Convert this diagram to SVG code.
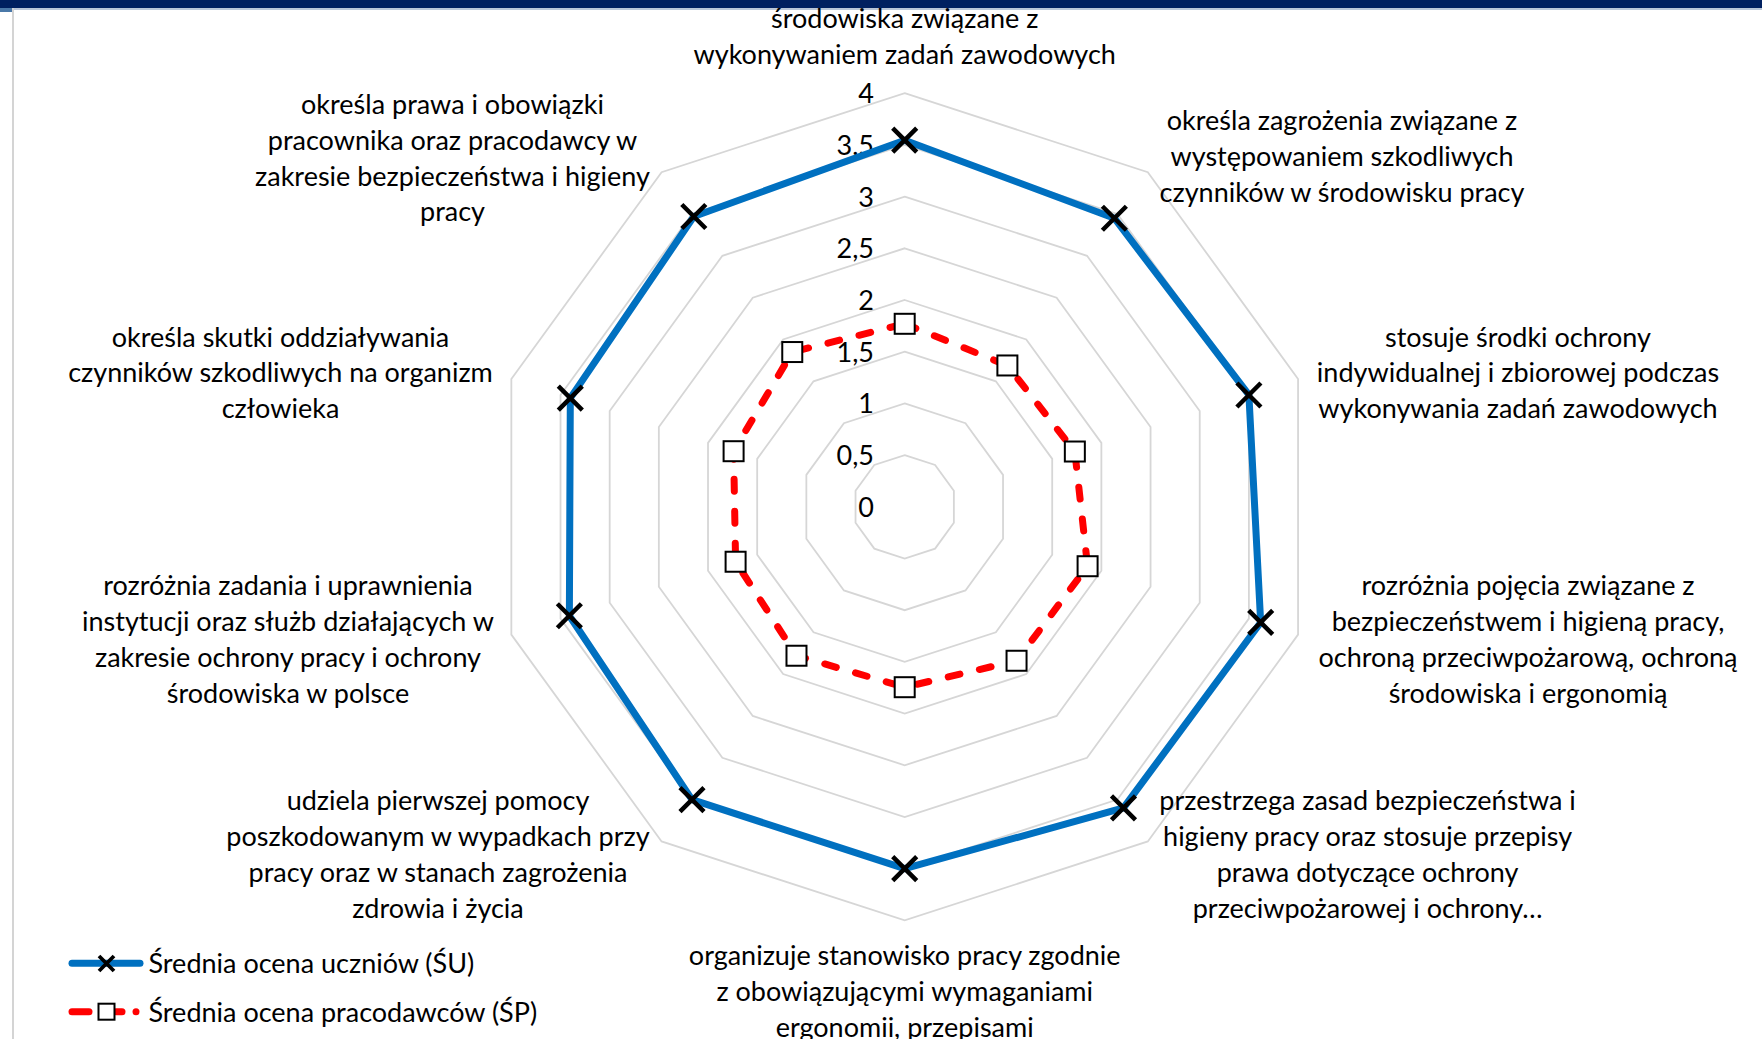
<svg xmlns="http://www.w3.org/2000/svg" xmlns:xlink="http://www.w3.org/1999/xlink" width="1762" height="1039" viewBox="0 0 1762 1039">
<style>
.grid{fill:none;stroke:#d6d6d6;stroke-width:1.8}
.txt{font-family:Lato,"Open Sans","Liberation Sans",sans-serif;font-size:27px;fill:#000}
.lbl{text-anchor:middle}
.ax{text-anchor:end}
.su{fill:none;stroke:#0070C0;stroke-width:7;stroke-linejoin:round}
.sp{fill:none;stroke:#FF0000;stroke-width:7;stroke-linecap:round;stroke-dasharray:12 20;stroke-linejoin:round}
</style>
<defs>
<g id="mx"><path d="M-12,-12L12,12M-12,12L12,-12" stroke="#000" stroke-width="4.5" fill="none"/></g>
<g id="ms"><rect x="-10" y="-10" width="20" height="20" fill="#fff" stroke="#000" stroke-width="2"/></g>
</defs>
<rect x="0" y="0" width="1762" height="1039" fill="#fff"/>
<g id="frame">
<rect x="0" y="0" width="1762" height="8" fill="#002060"/>
<rect x="12" y="8" width="1750" height="2" fill="#b9c6d8"/>
<rect x="0" y="8" width="12" height="4" fill="#4a78a8"/>
<rect x="12" y="8" width="2" height="1031" fill="#d4d4d4"/>
</g>
<g id="grid">
<polygon class="grid" points="904.7,455.1 935.09,464.97 953.87,490.82 953.87,522.78 935.09,548.63 904.7,558.5 874.31,548.63 855.53,522.78 855.53,490.82 874.31,464.97"/>
<polygon class="grid" points="904.7,403.4 965.48,423.15 1003.04,474.85 1003.04,538.75 965.48,590.45 904.7,610.2 843.92,590.45 806.36,538.75 806.36,474.85 843.92,423.15"/>
<polygon class="grid" points="904.7,351.7 995.87,381.32 1052.21,458.87 1052.21,554.73 995.87,632.28 904.7,661.9 813.53,632.28 757.19,554.73 757.19,458.87 813.53,381.32"/>
<polygon class="grid" points="904.7,300 1026.26,339.5 1101.38,442.9 1101.38,570.7 1026.26,674.1 904.7,713.6 783.14,674.1 708.02,570.7 708.02,442.9 783.14,339.5"/>
<polygon class="grid" points="904.7,248.3 1056.64,297.67 1150.55,426.92 1150.55,586.68 1056.64,715.93 904.7,765.3 752.76,715.93 658.85,586.68 658.85,426.92 752.76,297.67"/>
<polygon class="grid" points="904.7,196.6 1087.03,255.84 1199.72,410.94 1199.72,602.66 1087.03,757.76 904.7,817 722.37,757.76 609.68,602.66 609.68,410.94 722.37,255.84"/>
<polygon class="grid" points="904.7,144.9 1117.42,214.02 1248.89,394.97 1248.89,618.63 1117.42,799.58 904.7,868.7 691.98,799.58 560.51,618.63 560.51,394.97 691.98,214.02"/>
<polygon class="grid" points="904.7,93.2 1147.81,172.19 1298.06,378.99 1298.06,634.61 1147.81,841.41 904.7,920.4 661.59,841.41 511.34,634.61 511.34,378.99 661.59,172.19"/>
</g>
<g id="axis-labels" class="txt ax">
<text x="874" y="103.3">4</text>
<text x="874" y="155">3,5</text>
<text x="874" y="206.7">3</text>
<text x="874" y="258.4">2,5</text>
<text x="874" y="310">2</text>
<text x="874" y="361.7">1,5</text>
<text x="874" y="413.4">1</text>
<text x="874" y="465">0,5</text>
<text x="874" y="516.8">0</text>
</g>
<g id="connectors">
<polygon id="series-su" class="su" points="904.7,140.2 1114.37,218.22 1248.89,394.97 1260.68,622.46 1123.48,807.92 904.7,868.7 691.98,799.58 569.36,615.76 570.31,398.15 693.8,216.53"/>
<polygon id="series-sp" class="sp" points="904.7,323.8 1007.39,365.47 1074.84,451.52 1087.59,566.22 1016.55,660.75 904.7,687.2 796.49,655.74 735.6,561.74 733.6,451.21 792.26,352.04"/>
</g>
<g id="markers-su">
<use xlink:href="#mx" x="904.7" y="140.2"/>
<use xlink:href="#mx" x="1114.37" y="218.22"/>
<use xlink:href="#mx" x="1248.89" y="394.97"/>
<use xlink:href="#mx" x="1260.68" y="622.46"/>
<use xlink:href="#mx" x="1123.48" y="807.92"/>
<use xlink:href="#mx" x="904.7" y="868.7"/>
<use xlink:href="#mx" x="691.98" y="799.58"/>
<use xlink:href="#mx" x="569.36" y="615.76"/>
<use xlink:href="#mx" x="570.31" y="398.15"/>
<use xlink:href="#mx" x="693.8" y="216.53"/>
</g>
<g id="markers-sp">
<use xlink:href="#ms" x="904.7" y="323.8"/>
<use xlink:href="#ms" x="1007.39" y="365.47"/>
<use xlink:href="#ms" x="1074.84" y="451.52"/>
<use xlink:href="#ms" x="1087.59" y="566.22"/>
<use xlink:href="#ms" x="1016.55" y="660.75"/>
<use xlink:href="#ms" x="904.7" y="687.2"/>
<use xlink:href="#ms" x="796.49" y="655.74"/>
<use xlink:href="#ms" x="735.6" y="561.74"/>
<use xlink:href="#ms" x="733.6" y="451.21"/>
<use xlink:href="#ms" x="792.26" y="352.04"/>
</g>
<g id="cat0" class="txt lbl"><text x="904.7" y="28">środowiska związane z</text><text x="904.7" y="64">wykonywaniem zadań zawodowych</text></g>
<g id="cat1" class="txt lbl"><text x="1342" y="130">określa zagrożenia związane z</text><text x="1342" y="166">występowaniem szkodliwych</text><text x="1342" y="202">czynników w środowisku pracy</text></g>
<g id="cat2" class="txt lbl"><text x="1518" y="346.5">stosuje środki ochrony</text><text x="1518" y="382">indywidualnej i zbiorowej podczas</text><text x="1518" y="418">wykonywania zadań zawodowych</text></g>
<g id="cat3" class="txt lbl"><text x="1528" y="595">rozróżnia pojęcia związane z</text><text x="1528" y="631">bezpieczeństwem i higieną pracy,</text><text x="1528" y="667">ochroną przeciwpożarową, ochroną</text><text x="1528" y="703">środowiska i ergonomią</text></g>
<g id="cat4" class="txt lbl"><text x="1367.6" y="810">przestrzega zasad bezpieczeństwa i</text><text x="1367.6" y="846">higieny pracy oraz stosuje przepisy</text><text x="1367.6" y="882">prawa dotyczące ochrony</text><text x="1367.6" y="918">przeciwpożarowej i ochrony…</text></g>
<g id="cat5" class="txt lbl"><text x="904.7" y="965">organizuje stanowisko pracy zgodnie</text><text x="904.7" y="1001">z obowiązującymi wymaganiami</text><text x="904.7" y="1037">ergonomii, przepisami</text></g>
<g id="cat6" class="txt lbl"><text x="438" y="810">udziela pierwszej pomocy</text><text x="438" y="846">poszkodowanym w wypadkach przy</text><text x="438" y="882">pracy oraz w stanach zagrożenia</text><text x="438" y="918">zdrowia i życia</text></g>
<g id="cat7" class="txt lbl"><text x="288" y="595">rozróżnia zadania i uprawnienia</text><text x="288" y="631">instytucji oraz służb działających w</text><text x="288" y="667">zakresie ochrony pracy i ochrony</text><text x="288" y="703">środowiska w polsce</text></g>
<g id="cat8" class="txt lbl"><text x="280.5" y="346.5">określa skutki oddziaływania</text><text x="280.5" y="382">czynników szkodliwych na organizm</text><text x="280.5" y="418">człowieka</text></g>
<g id="cat9" class="txt lbl"><text x="452.5" y="113.5">określa prawa i obowiązki</text><text x="452.5" y="149.5">pracownika oraz pracodawcy w</text><text x="452.5" y="185.5">zakresie bezpieczeństwa i higieny</text><text x="452.5" y="221">pracy</text></g>
<g id="legend">
<line x1="72" y1="963.3" x2="140" y2="963.3" stroke="#0070C0" stroke-width="7" stroke-linecap="round"/>
<path d="M99,956L114,971M99,971L114,956" stroke="#000" stroke-width="3.8" fill="none"/>
<line x1="72" y1="1011.7" x2="89" y2="1011.7" stroke="#FF0000" stroke-width="7" stroke-linecap="round"/>
<line x1="116" y1="1011.7" x2="122" y2="1011.7" stroke="#FF0000" stroke-width="7" stroke-linecap="round"/>
<circle cx="136" cy="1011.7" r="3.5" fill="#FF0000"/>
<rect x="98.5" y="1003.7" width="16" height="16" fill="#fff" stroke="#000" stroke-width="2"/>
<text class="txt" x="148.5" y="973.3">Średnia ocena uczniów (ŚU)</text>
<text class="txt" x="148.5" y="1021.7">Średnia ocena pracodawców (ŚP)</text>
</g>
</svg>
